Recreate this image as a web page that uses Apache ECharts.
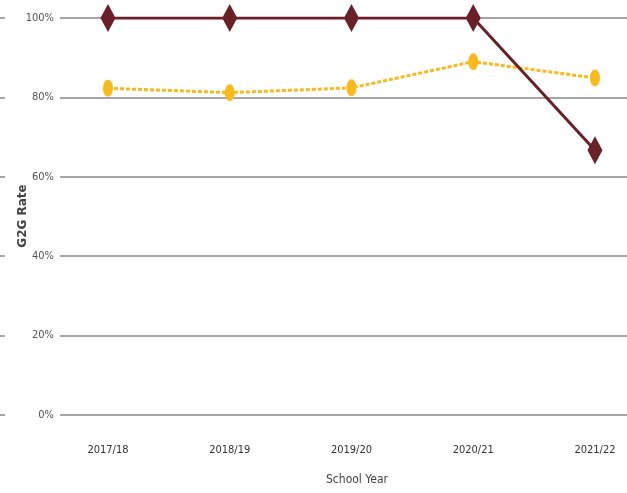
<!DOCTYPE html>
<html>
<head>
<meta charset="utf-8">
<style>
  html, body { margin: 0; padding: 0; background: #fff; }
  #chart { width: 627px; height: 493px; }
</style>
<script src="https://cdn.jsdelivr.net/npm/echarts@6/dist/echarts.min.js"></script>
</head>
<body>
<div id="chart"></div>
<script>
// School years on the horizontal axis
const years = ['2017/18', '2018/19', '2019/20', '2020/21', '2021/22'];
// G2G rate (%) for each year
const schoolRate = [100, 100, 100, 100, 66.7];
const comparisonRate = [82.3, 81.2, 82.4, 89.0, 84.9];
// Percentage ticks on the vertical axis
const yTicks = [0, 20, 40, 60, 80, 100];

const narrow = '"Liberation Sans Narrow", "Arial Narrow", "DejaVu Sans Condensed", "Liberation Sans", sans-serif';

const chart = echarts.init(document.getElementById('chart'), null, { renderer: 'canvas' });

const toPoints = arr => arr.map((v, i) => [i, v]);

chart.setOption({
  animation: false,
  backgroundColor: '#fff',
  title: {
    text: 'School Year',
    left: 352,
    top: 469,
    textAlign: 'center',
    textStyle: { fontFamily: narrow, fontSize: 12, fontWeight: 'normal', color: '#444' }
  },
  // vertical axis title, rotated to read bottom-to-top
  graphic: [{
    type: 'text',
    x: 23,
    y: 216,
    rotation: Math.PI / 2,
    style: {
      text: 'G2G Rate',
      align: 'center',
      verticalAlign: 'middle',
      fontFamily: '"DejaVu Sans", sans-serif',
      fontSize: 12,
      fontWeight: 'bold',
      fill: '#444'
    }
  }],
  grid: { left: 0, right: 0, top: 18, bottom: 78, containLabel: false, outerBoundsMode: 'none' },
  xAxis: {
    type: 'value',
    min: -0.887,
    max: 4.263,
    axisLine: { show: false },
    axisTick: { show: false },
    splitLine: { show: false },
    axisLabel: {
      customValues: years.map((_, i) => i),
      formatter: v => years[Math.round(v)] || '',
      margin: 30,
      fontFamily: narrow,
      fontSize: 11,
      color: '#333'
    }
  },
  yAxis: {
    type: 'value',
    min: yTicks[0],
    max: yTicks[yTicks.length - 1],
    interval: 20,
    axisLine: { show: false },
    axisTick: { show: false },
    splitLine: { show: true, lineStyle: { color: '#a6a6a6', width: 2 } },
    axisLabel: {
      inside: true,
      margin: 5,
      backgroundColor: '#fff',
      padding: [3, 6, 3, 0],
      formatter: v => '{l|' + v + '%}',
      rich: {
        l: { width: 49, align: 'right', fontFamily: narrow, fontSize: 11, color: '#555' }
      }
    }
  },
  series: [
    {
      type: 'line',
      data: toPoints(comparisonRate),
      symbol: 'circle',
      symbolSize: [10, 17],
      itemStyle: { color: '#fbb91a' },
      lineStyle: { color: '#fbb91a', width: 3, type: [4, 2] },
      z: 3
    },
    {
      type: 'line',
      data: toPoints(schoolRate),
      symbol: 'diamond',
      symbolSize: [15, 28],
      itemStyle: { color: '#6b1f27' },
      lineStyle: { color: '#6b1f27', width: 3 },
      z: 4
    }
  ]
});
</script>
</body>
</html>
